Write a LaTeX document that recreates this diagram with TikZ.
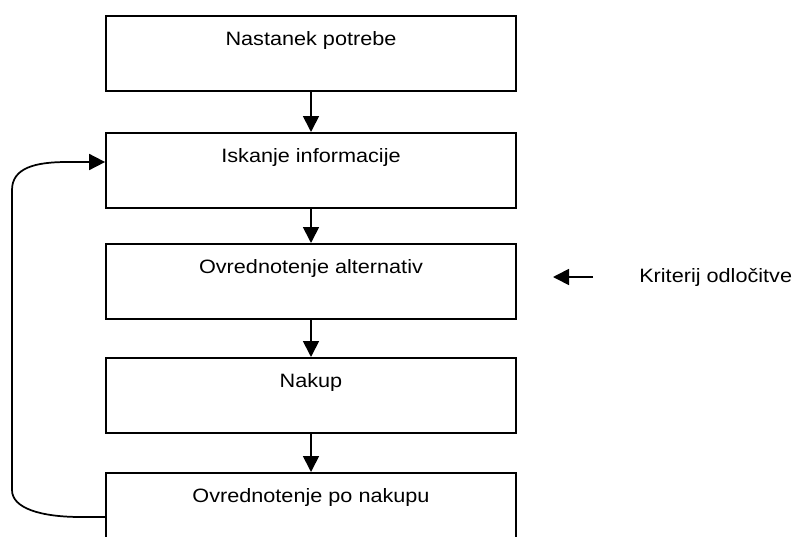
\documentclass[tikz,border=0pt]{standalone}
\usepackage{fontspec}
\setmainfont{Liberation Sans}[FakeStretch=1.12]
\usetikzlibrary{arrows.meta}
\tikzstyle{stage} = [draw=black, line width=1.3pt, inner xsep=0, inner ysep=0,
    minimum width=307.5pt, text height=22.5pt, text depth=33.75pt,
    font=\fontsize{14.5pt}{17pt}\selectfont]
\tikzstyle{flow} = [line width=1.3pt, -{Triangle[length=12pt, width=12pt]}]
\tikzstyle{note} = [inner sep=0, anchor=west, font=\fontsize{14.5pt}{17pt}\selectfont]

\begin{document}
\begin{tikzpicture}[x=0.75pt, y=-0.75pt]
\useasboundingbox (0,0) rectangle (792,536);

%%% STAGES
\node[stage, anchor=north] (b1) at (311,15) {Nastanek potrebe};
\node[stage, anchor=north] (b2) at (311,132) {Iskanje informacije};
\node[stage, anchor=north] (b3) at (311,243) {Ovrednotenje alternativ};
\node[stage, anchor=north] (b4) at (311,357) {Nakup};
\node[stage, anchor=north] (b5) at (311,472) {Ovrednotenje po nakupu};

% arrows down the chain
\draw[flow] (b1) -- (b2);
\draw[flow] (b2) -- (b3);
\draw[flow] (b3) -- (b4);
\draw[flow] (b4) -- (b5);

%%% FEEDBACK
\draw[flow] ([yshift=-33.75pt]b5.north west) -- ++(-24,0)
    .. controls (40,517) and (12,508) .. (12,490) -- (12,190)
    .. controls (12,168) and (35,162) .. (67,162) -- ([yshift=-22.5pt]b2.north west);

%%% CRITERIA
\node[note] (krit) at (639,277) {Kriterij odločitve};
\draw[flow] ([xshift=-34.5pt]krit.west) -- ([xshift=-64.5pt]krit.west);

\end{tikzpicture}
\end{document}
